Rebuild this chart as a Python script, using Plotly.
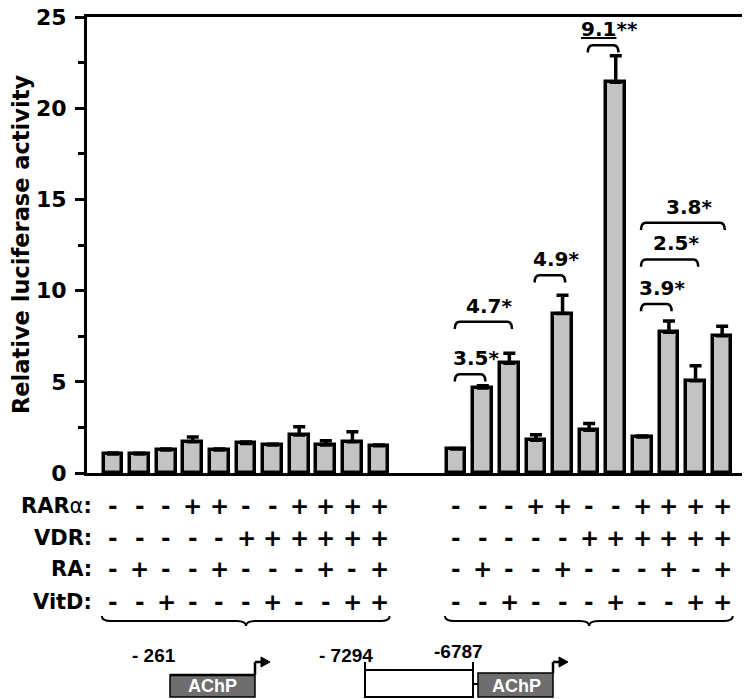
import plotly.graph_objects as go

# bar heights / upper error
left_vals = [1.04, 1.04, 1.26, 1.71, 1.26, 1.62, 1.53, 2.09, 1.53, 1.71, 1.49]
left_errs = [0.05, 0.04, 0.05, 0.27, 0.05, 0.08, 0.05, 0.44, 0.24, 0.55, 0.05]
right_vals = [1.31, 4.66, 6.02, 1.80, 8.74, 2.34, 21.42, 1.98, 7.71, 5.06, 7.53]
right_errs = [0.03, 0.12, 0.55, 0.30, 1.00, 0.37, 1.45, 0.05, 0.63, 0.82, 0.52]

# treatment rows (same for both constructs)
row_labels = ["RAR<span style='font-weight:normal'>α</span>:", "VDR:", "RA:", "VitD:"]
rar_signs = ["-", "-", "-", "+", "+", "-", "-", "+", "+", "+", "+"]
vdr_signs = ["-", "-", "-", "-", "-", "+", "+", "+", "+", "+", "+"]
ra_signs = ["-", "+", "-", "-", "+", "-", "-", "-", "+", "-", "+"]
vitd_signs = ["-", "-", "+", "-", "-", "-", "+", "-", "-", "+", "+"]

# significance brackets over the second construct
br_start = [0, 0, 3, 5, 7, 7, 7]
br_end = [1, 2, 4, 6, 8, 9, 10]
br_height = [5.41, 8.29, 10.84, 23.45, 9.27, 11.71, 13.72]
br_label = ["3.5*", "4.7*", "4.9*", "<u>9.1</u>**", "3.9*", "2.5*", "3.8*"]

FONT = "DejaVu Sans"
NARROW = "Liberation Sans Narrow, Arial Narrow, Liberation Sans, Arial"

# the page body adds an 8px margin, so the figure is drawn 8px smaller
OFF = 8
W, H = 750 - OFF, 699 - OFF
ML, MT = 87 - OFF, 17 - OFF
MR = W - (745 - OFF)
MB = H - (473 - OFF)
PW, PH = W - ML - MR, H - MT - MB


def fx(px):
    return (px - OFF - ML) / PW


def fy(py):
    return (H - MB - (py - OFF)) / PH


n = len(left_vals)
left_x = list(range(n))
right_x = [n + 1.9 + i for i in range(n)]
all_x = left_x + right_x

fig = go.Figure()
fig.add_trace(
    go.Bar(
        x=all_x,
        y=left_vals + right_vals,
        width=0.7,
        marker=dict(color="#c3c3c3", line=dict(color="black", width=3.5)),
        error_y=dict(
            type="data",
            symmetric=False,
            array=left_errs + right_errs,
            arrayminus=[0] * (2 * n),
            color="black",
            thickness=3.5,
            width=6,
        ),
        showlegend=False,
    )
)

shapes = []
annotations = []

# brackets
for s, e, h, lab in zip(br_start, br_end, br_height, br_label):
    x0 = right_x[s] - 0.05
    x1 = right_x[e] + 0.1
    d = 0.4
    shapes.append(
        dict(
            type="path",
            xref="x",
            yref="y",
            path=f"M {x0},{h - d} Q {x0},{h} {x0 + 0.18},{h} L {x1 - 0.18},{h} Q {x1},{h} {x1},{h - d}",
            line=dict(color="black", width=2.5),
        )
    )
    annotations.append(
        dict(
            x=(x0 + x1) / 2,
            y=h,
            xref="x",
            yref="y",
            text=f"<b>{lab}</b>",
            showarrow=False,
            xanchor="center",
            yanchor="bottom",
            xshift=6,
            yshift=2,
            font=dict(family=FONT, size=20, color="black"),
        )
    )

# treatment rows
row_py = [506, 538, 569, 602]
for lab, signs, py in zip(row_labels, [rar_signs, vdr_signs, ra_signs, vitd_signs], row_py):
    annotations.append(
        dict(
            x=fx(94),
            y=fy(py),
            xref="paper",
            yref="paper",
            text=f"<b>{lab}</b>",
            showarrow=False,
            xanchor="right",
            yanchor="middle",
            font=dict(family=FONT, size=21, color="black"),
        )
    )
    for xv, sg in zip(all_x, signs + signs):
        annotations.append(
            dict(
                x=xv,
                y=fy(py),
                xref="x",
                yref="paper",
                text=f"<b>{sg}</b>",
                showarrow=False,
                xanchor="center",
                yanchor="middle",
                font=dict(family=FONT, size=23, color="black"),
            )
        )

# braces under each construct
for xs in (left_x, right_x):
    x0, x1 = xs[0] - 0.42, xs[-1] + 0.4
    xc = (xs[0] + xs[-1]) / 2
    y0 = fy(621)
    dy = 5 / PH
    a = 0.35
    shapes.append(
        dict(
            type="path",
            xref="x",
            yref="paper",
            path=(
                f"M {x0},{y0 + dy} Q {x0},{y0} {x0 + a},{y0} L {xc - a},{y0} "
                f"Q {xc},{y0} {xc},{y0 - dy} Q {xc},{y0} {xc + a},{y0} "
                f"L {x1 - a},{y0} Q {x1},{y0} {x1},{y0 + dy}"
            ),
            line=dict(color="black", width=2),
        )
    )


def rect(x0, y0, x1, y1, fill, lw=1.5):
    shapes.append(
        dict(
            type="rect",
            xref="paper",
            yref="paper",
            x0=fx(x0),
            x1=fx(x1),
            y0=fy(y1),
            y1=fy(y0),
            fillcolor=fill,
            line=dict(color="black", width=lw),
        )
    )


def seg(x0, y0, x1, y1, lw=2):
    shapes.append(
        dict(
            type="line",
            xref="paper",
            yref="paper",
            x0=fx(x0),
            x1=fx(x1),
            y0=fy(y0),
            y1=fy(y1),
            line=dict(color="black", width=lw),
        )
    )


def arrow_head(x, y):
    shapes.append(
        dict(
            type="path",
            xref="paper",
            yref="paper",
            path=f"M {fx(x)},{fy(y - 5)} L {fx(x + 9)},{fy(y)} L {fx(x)},{fy(y + 5)} Z",
            fillcolor="black",
            line=dict(color="black", width=1),
        )
    )


def text(x, y, s, size=18, color="black"):
    annotations.append(
        dict(
            x=fx(x),
            y=fy(y),
            xref="paper",
            yref="paper",
            text=f"<b>{s}</b>",
            showarrow=False,
            xanchor="center",
            yanchor="middle",
            font=dict(family=NARROW, size=size, color=color),
        )
    )


# -261 construct
rect(170, 675, 255, 697, "#6e6e6e")
seg(170, 675, 255, 675, 2.5)
seg(255, 675, 255, 662, 2.5)
seg(255, 662, 262, 662, 2.5)
arrow_head(261, 662)
text(154, 655, "- 261", 19)
text(212, 686, "AChP", 18, "white")

# -7294/-6787 construct
rect(365, 670, 473, 697, "white", 2)
seg(365, 662, 365, 672, 2)
seg(473, 662, 473, 672, 2)
seg(473, 684, 478, 684, 2)
rect(478, 673, 553, 697, "#6e6e6e")
seg(553, 673, 553, 662, 2.5)
seg(553, 662, 560, 662, 2.5)
arrow_head(559, 662)
text(346, 655, "- 7294", 19)
text(458, 651, "-6787", 19)
text(516, 686, "AChP", 18, "white")

# y axis title (kept just inside the page margin)
annotations.append(
    dict(
        x=fx(21),
        y=0.5,
        xref="paper",
        yref="paper",
        text="<b>Relative luciferase activity</b>",
        textangle=-90,
        showarrow=False,
        xanchor="center",
        yanchor="middle",
        font=dict(family=FONT, size=22.5, color="black"),
    )
)

x_lo = -(113 - 87) / 26.6
fig.update_layout(
    width=W,
    height=H,
    margin=dict(l=ML, r=MR, t=MT, b=MB, autoexpand=False),
    plot_bgcolor="white",
    paper_bgcolor="white",
    bargap=0,
    shapes=shapes,
    annotations=annotations,
    xaxis=dict(
        range=[x_lo, x_lo + PW / 26.6],
        showline=True,
        linecolor="black",
        linewidth=3,
        mirror=True,
        showticklabels=False,
        ticks="",
        showgrid=False,
        zeroline=False,
        automargin=False,
    ),
    yaxis=dict(
        range=[0, 25],
        tickvals=[0, 5, 10, 15, 20, 25],
        showline=True,
        linecolor="black",
        linewidth=3,
        mirror=True,
        ticks="outside",
        ticklen=9,
        tickwidth=3,
        tickcolor="black",
        minor=dict(dtick=2.5, ticks="outside", ticklen=6, tickwidth=3, tickcolor="black"),
        tickfont=dict(family=FONT, size=22, color="black", weight="bold"),
        ticklabeloverflow="allow",
        ticklabelstandoff=4,
        showgrid=False,
        zeroline=False,
        automargin=False,
    ),
)

fig.write_html("out.html")
